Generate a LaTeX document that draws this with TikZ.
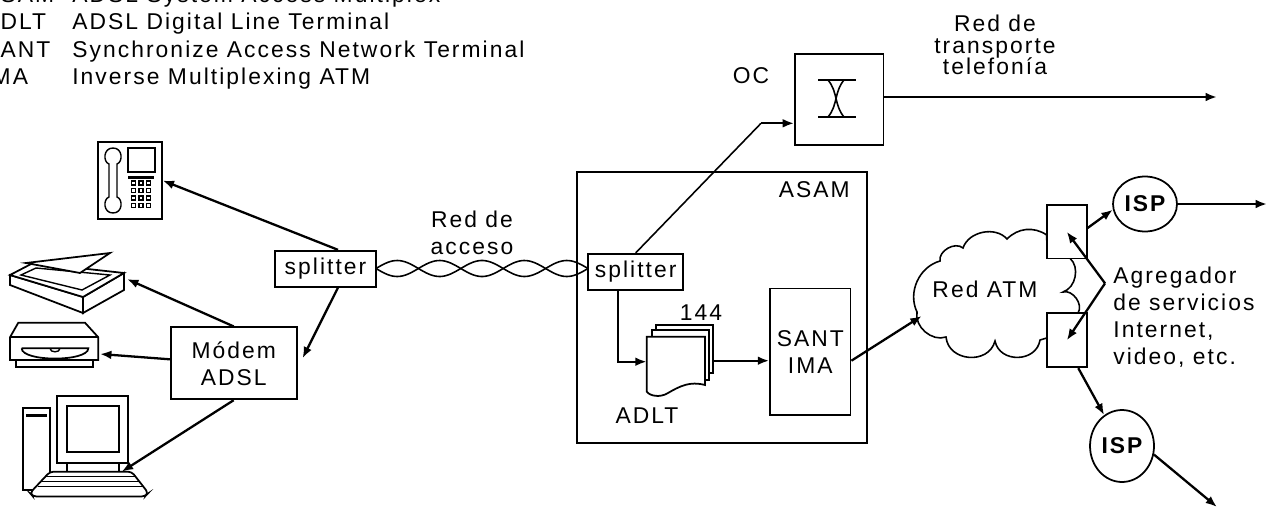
\documentclass[tikz,border=0pt]{standalone}
\usepackage{fontspec}
\setmainfont{Liberation Sans}[LetterSpace=9]
\usepackage{tikz}
\usetikzlibrary{arrows.meta,calc,positioning,shapes.geometric}

\begin{document}
\begin{tikzpicture}[x=0.02cm,y=-0.02cm,inner sep=0pt,
  font=\fontsize{13}{15.3}\selectfont,
  kasten/.style={draw,line width=1pt,align=center,fill=white},
  pfeil/.style={line width=1.3pt,-{Latex[length=6.5pt,width=5pt]}},
  linie/.style={line width=0.9pt},
  geraet/.style={line width=1pt,fill=white},
  isp/.style={draw,ellipse,line width=1pt,minimum width=1.28cm,font=\fontsize{13}{15.3}\selectfont\bfseries}]
%Alle Koordinaten in Pixel (1 Einheit = 0.02cm), y zeigt nach unten
  \pgfmathsetmacro{\periode}{212/2.5}
  \pgfmathsetmacro{\amp}{8}
\useasboundingbox (0,0) rectangle (1277,507);
%Legende
\foreach \abk/\txt [count=\i] in {ASAM/ADSL System Access Multiplex,ADLT/ADSL Digital Line Terminal,SANT/Synchronize Access Network Terminal,IMA/Inverse Multiplexing ATM}{
  \node[anchor=base west] (abk\i) at (-17,{3+27*(\i-1)}) {\abk};
  \node[anchor=base west] (txt\i) at (72,{3+27*(\i-1)}) {\txt};
}
%Telefon
\node[kasten,minimum width=1.27cm,minimum height=1.55cm] (telefon) at (130,180.5) {};
\draw[line width=0.8pt] (109,164) .. controls (103,162) and (103,148) .. (113,148) .. controls (123,148) and (123,162) .. (117,164) -- (117,197) .. controls (123,199) and (123,213) .. (113,213) .. controls (103,213) and (103,199) .. (109,197) -- cycle;
\draw[line width=0.8pt] (128,148) rectangle (155,172);
\fill (128,176) rectangle (154,178.5);
\foreach \sx in {131.5,139,146.5}
  \foreach \sy in {181,188.5,196,203.5}
    \draw[line width=0.7pt] (\sx,\sy) rectangle ++(4,4);
%Scanner
\draw[geraet] (10,275) -- (83,297) -- (83,313) -- (10,285) -- cycle;
\draw[geraet] (83,297) -- (124,273) -- (124,290) -- (83,313) -- cycle;
\draw[geraet] (10,275) -- (33,263) -- (124,273) -- (83,297) -- cycle;
\draw[line width=0.8pt] (21,275) -- (36,268) -- (110,275) -- (82,290) -- cycle;
\draw[geraet] (26,263) -- (110,253) -- (80,273) -- cycle;
%Laufwerk
\draw[geraet] (16,360) rectangle (92.7,367.3);
\draw[geraet] (18.3,322.7) -- (85,322.7) -- (98.3,337.3) -- (98.3,360) -- (10,360) -- (10,337.3) -- cycle;
\draw[line width=1pt] (10,337.3) -- (98.3,337.3);
\draw[line width=1pt] (21.7,348.3) -- (88.3,348.3) .. controls (88.3,362) and (21.7,362) .. (21.7,348.3);
\draw[line width=0.8pt] (50,348.3) .. controls (50,353) and (60,353) .. (60,348.3);
%Rechner
\draw[geraet] (22.7,408.3) rectangle (50,490);
\fill (26,414.3) rectangle (46.7,416.7);
\draw[geraet] (57.3,395.7) rectangle (128.3,463.3);
\draw[geraet] (67.3,406) rectangle (119,451.7);
\draw[geraet] (66.7,463.3) rectangle (119.3,471.7);
\draw[geraet,rounded corners=2pt] (50,471.7) -- (131.7,471.7) -- (148.3,493) -- (145,496.5) -- (33,496.5) -- (30,493) -- cycle;
\foreach \ky/\kl/\kr in {476.7/46/136,481.7/42/140,486.7/38/143.5}
  \draw[line width=0.8pt] (\kl,\ky) -- (\kr,\ky);
%Teilnehmerseite
\node[kasten,minimum width=2.02cm,minimum height=0.72cm] (splitter1) at (325.5,268.7) {splitter};
\node[kasten,minimum width=2.52cm,minimum height=1.44cm] (modem) at (233.7,363.3) {Módem\\ADSL};
\coordinate (scanner) at (127,279);
\coordinate (laufwerk) at (100,354);
\coordinate (pc) at (121.7,471.7);
\draw[pfeil] ([xshift=0.25cm]splitter1.north) -- (telefon.east);
\draw[pfeil] ([xshift=0.25cm]splitter1.south) -- ([xshift=0.1cm,yshift=0.1cm]modem.east);
\draw[pfeil] (modem.north) -- (scanner);
\draw[pfeil] ([yshift=0.08cm]modem.west) -- (laufwerk);
\draw[pfeil] (modem.south) -- (pc);
%ASAM
\node[kasten,fill=none,minimum width=5.8cm,minimum height=5.43cm] (asam) at (721.7,307.5) {};
\node[anchor=base east] (asamtext) at (850,197) {ASAM};
\node[kasten,minimum width=1.9cm,minimum height=0.73cm] (splitter2) at (635.7,272) {splitter};
%verdrillte Leitung
\foreach \vz in {1,-1}
  \draw[linie] plot[domain=376:588,samples=90,smooth] (\x,{268.5+\vz*\amp*sin(360/\periode*(\x-376))});
\node[align=center] (acceso) at (472,232.5) {Red de\\acceso};
%OC
\node[kasten,minimum width=1.77cm,minimum height=1.82cm] (oc) at (839.2,99.5) {};
\draw[linie] (818,80) -- (856,80) (818,117) -- (856,117);
\draw[linie] (828,80) .. controls (838,92) and (834,105) .. (844,117);
\draw[linie] (844,80) .. controls (834,92) and (838,105) .. (828,117);
\node[anchor=base] (octext) at (751,83) {OC};
\coordinate (knick) at (761,123.3);
\draw[linie] (splitter2.north) -- (knick);
\draw[pfeil] (knick) -- (knick -| oc.west);
\coordinate (telefonie) at (1217,97);
\draw[pfeil] (oc.east |- telefonie) -- (telefonie);
\node[align=center,font=\fontsize{13}{12.4}\selectfont] (transport) at (995,45) {Red de\\transporte\\telefonía};
%ADLT Karten
\draw[geraet] (656,325) rectangle (713.3,373.3);
\draw[geraet] (651.7,330) rectangle (709.3,380);
\draw[geraet] (646.7,336.7) -- (705,336.7) -- (705,385) .. controls (690,381) and (680,386) .. (668,393) .. controls (660,398) and (650,396) .. (646.7,391.7) -- cycle;
\coordinate (adltein) at (646.7,361.7);
\coordinate (adltaus) at (713.3,360.7);
\node[anchor=base] (anzahl) at (701,320) {144};
\node[anchor=base] (adlt) at (647,423.3) {ADLT};
\draw[pfeil] ([xshift=-0.35cm]splitter2.south) |- (adltein);
\node[kasten,minimum width=1.61cm,minimum height=2.53cm] (sant) at (810.3,351.7) {SANT\\IMA};
\draw[pfeil] (adltaus) -- (adltaus -| sant.west);
\coordinate (atm) at (921.7,316);
\draw[pfeil] (adltaus -| sant.east) -- (atm);
%Wolke Red ATM
\draw[linie] (1046.7,235) to[bend right=40] (1007,239) to[bend right=60] (963,248) to[bend right=70] (940,261) to[bend right=50] (917,312) to[bend right=60] (946,337) to[bend right=80,looseness=1.3] (995,341) to[bend right=80,looseness=1.3] (1040,340) -- (1046.7,338) -- (1078,313) to[bend right=70] (1063,292) to[bend right=60] (1070,258.3) -- (1046.7,240) -- cycle;
\node (redatm) at (985,289) {Red ATM};
%Agregador und ISP
\node[kasten,minimum width=0.8cm,minimum height=1.07cm] (agg1) at (1066.7,231.7) {};
\node[kasten,minimum width=0.8cm,minimum height=1.08cm] (agg2) at (1066.8,340.3) {};
\node[isp,minimum height=1.1cm] (isp1) at (1145,204) {ISP};
\node[isp,minimum height=1.44cm] (isp2) at (1122,446) {ISP};
\coordinate (isp1aus) at (1267,204);
\coordinate (isp2aus) at (1217,507);
\draw[pfeil] (agg1.10) -- (isp1.190);
\draw[pfeil] (isp1.east) -- (isp1aus);
\draw[pfeil] ([xshift=0.23cm]agg2.south) -- (isp2.120);
\draw[pfeil] (isp2.-15) -- (isp2aus);
\coordinate (agg) at (1105,283.3);
\draw[pfeil] (agg) -- (agg1.center);
\draw[pfeil] (agg) -- (agg2.center);
\node[anchor=north west,align=left] (agregador) at (1113,267) {Agregador\\de servicios\\Internet,\\video, etc.};
\end{tikzpicture}
\end{document}
